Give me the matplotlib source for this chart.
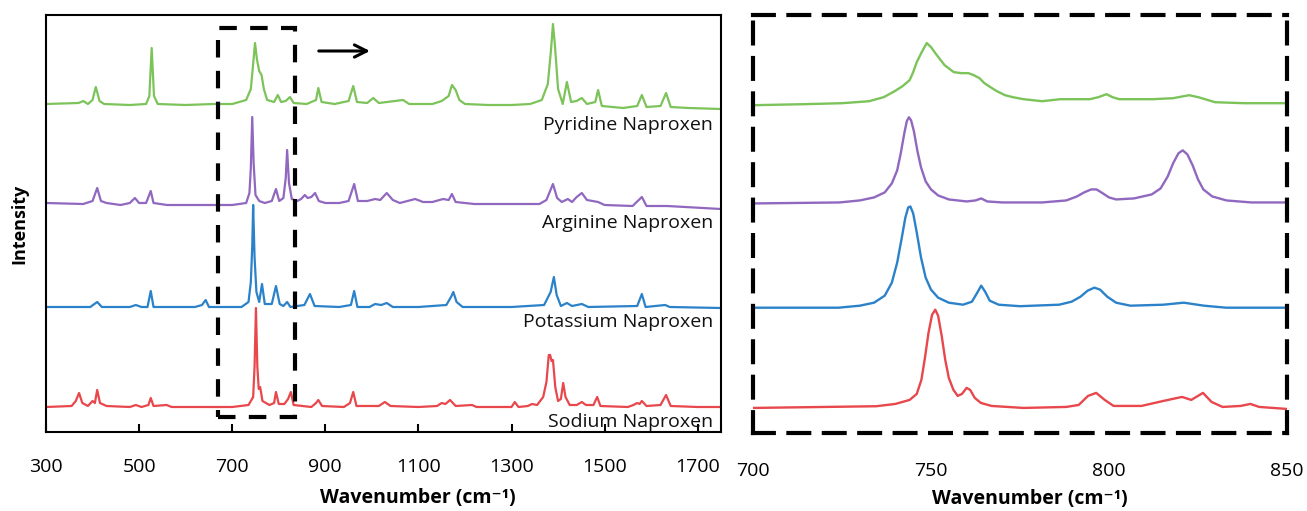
import matplotlib
matplotlib.use("Agg")
import matplotlib.pyplot as plt
import numpy as np
from matplotlib.patches import Rectangle

plt.rcParams['font.family'] = ['Open Sans', 'DejaVu Sans']

# ---------------- data ----------------
names = ['Pyridine Naproxen', 'Arginine Naproxen', 'Potassium Naproxen', 'Sodium Naproxen']
colors = ['#7cc35a', '#9068bf', '#2b82c9', '#e8474c']
offsets = [328, 229, 125, 25]

# full-range spectra (wavenumber, intensity above baseline)
pyr_x = [300, 370, 380, 390, 400, 407, 415, 425, 480, 515, 522, 527, 532, 540, 600, 660, 700, 730, 740, 745,
         749, 753, 758, 763, 768, 775, 790, 798, 805, 815, 824, 832, 860, 880, 885, 892, 920, 950, 960, 968,
         990, 1003, 1015, 1067, 1080, 1130, 1150, 1165, 1172, 1180, 1188, 1200, 1250, 1300, 1340, 1365, 1378,
         1385, 1389, 1393, 1400, 1410, 1419, 1428, 1440, 1451, 1462, 1480, 1486, 1494, 1540, 1570, 1580, 1590,
         1620, 1632, 1642, 1680, 1750]
pyr_y = [0, 1, 3, 0, 4, 17, 3, 0, -1, 0, 8, 56, 8, 0, -1, 0, 0, 4, 15, 40,
         61, 45, 33, 29, 15, 4, 2, 9, 2, 3, 7, 1, 0, 4, 16, 2, 0, 3, 18, 2,
         1, 6, 1, 4, 0, 0, 3, 8, 19, 14, 4, 0, -1, -1, 0, 4, 20,
         55, 80, 60, 15, 0, 22, 2, 3, 6, 0, 2, 14, -2, -4, -2, 9, -3,
         -2, 11, -3, -4, -5]

arg_x = [300, 380, 400, 410, 418, 430, 460, 480, 491, 500, 515, 525, 531, 560, 640, 700, 730, 737, 740, 743,
         746, 750, 758, 770, 785, 794, 801, 810, 815, 818, 822, 828, 840, 848, 856, 862, 870, 878, 886, 900,
         930, 950, 962, 970, 990, 1007, 1018, 1032, 1045, 1060, 1093, 1110, 1130, 1153, 1165, 1172, 1180, 1220,
         1300, 1360, 1375, 1389, 1398, 1408, 1421, 1430, 1440, 1451, 1462, 1486, 1500, 1560, 1580, 1590, 1634,
         1750]
arg_y = [0, -1, 2, 15, 2, 0, -2, 0, 5, 0, 0, 12, 0, -2, -2, -2, 0, 10, 35, 86,
         40, 8, 2, 0, 2, 14, 2, 5, 25, 53, 20, 4, 2, 4, 8, 5, 6, 10, 2, 0,
         0, 2, 19, 2, 2, 4, 3, 10, 3, 0, 4, 1, 1, 4, 3, 9, 1, -1,
         -1, -1, 3, 19, 5, 1, 4, 1, 6, 10, 3, 1, -2, -3, 6, -3, -3,
         -6]

pot_x = [300, 395, 410, 420, 480, 493, 505, 518, 525, 531, 620, 635, 643, 650, 720, 735, 740, 743, 745, 748,
         752, 758, 764, 770, 785, 794, 802, 810, 818, 825, 855, 867, 877, 930, 955, 962, 969, 995, 1007, 1020,
         1032, 1045, 1100, 1160, 1170, 1175, 1182, 1195, 1300, 1370, 1384, 1391, 1397, 1406, 1419, 1430, 1451,
         1465, 1570, 1580, 1588, 1630, 1640, 1750]
pot_y = [0, 0, 5, 0, 0, 2, 0, 0, 16, 0, 0, 2, 7, 0, 0, 5, 25, 60, 102, 50,
         15, 5, 23, 3, 3, 21, 3, 1, 5, 0, 2, 13, 1, 0, 2, 16, 0, 0, 3, 2,
         4, 0, 0, 2, 10, 15, 5, 0, 0, 2, 15, 30, 12, 1, 4, 1, 3,
         0, 1, 13, 0, 2, 0, -1]

sod_x = [300, 355, 364, 371, 378, 390, 400, 405, 410, 416, 430, 480, 493, 505, 520, 525, 531, 559, 570, 700,
         735, 745, 748, 751, 754, 757, 760, 765, 780, 790, 794, 800, 812, 820, 826, 832, 870, 880, 885, 893,
         940, 953, 960, 967, 1015, 1028, 1040, 1100, 1140, 1150, 1158, 1168, 1180, 1215, 1225, 1300, 1307,
         1315, 1335, 1344, 1355, 1368, 1375, 1380, 1383, 1386, 1389, 1394, 1400, 1406, 1411, 1416, 1425, 1440,
         1451, 1460, 1476, 1484, 1491, 1550, 1562, 1570, 1575, 1580, 1590, 1620, 1632, 1642, 1700, 1750]
sod_y = [0, 1, 6, 14, 4, 1, 6, 4, 17, 4, 1, 0, 2, 0, 2, 9, 1, 2, 0, 0,
         2, 10, 40, 99, 40, 18, 20, 6, 2, 4, 15, 3, 3, 8, 15, 2, 0, 4, 7, 1,
         0, 4, 15, 1, 1, 5, 1, 0, 1, 4, 3, 7, 1, 2, 0, 0, 5,
         0, 1, 3, 2, 10, 25, 52, 52, 46, 47, 20, 6, 8, 24, 10, 2, 2,
         5, 2, 2, 10, 1, 0, 2, 4, 3, 6, 1, 2, 12, 1, 0, 0]

# zoomed spectra (700-850 cm-1)
pyr_zx = [700, 713.9, 725, 732.6, 736.7, 739.8, 742, 744, 745, 746, 747.4, 748.8, 750, 751.2, 752.5, 753.8,
          756.4, 758.5, 760.5, 762, 763.6, 765, 766.7, 768.5, 770.8, 773, 776, 781.2, 786.3, 794.6, 797,
          799.3, 801, 802.9, 812.2, 818, 822.5, 825.1, 829.8, 838, 850]
pyr_zy = [-1, 0, 1, 3, 7, 13, 18, 24, 32, 42, 52, 61, 57, 51, 45, 39,
          32, 31, 31, 29, 26, 21, 17, 13, 9, 7, 5, 3, 5, 5, 7,
          10, 7, 5, 5, 6, 9, 7, 2, 1, 1]

arg_zx = [700, 724.3, 730, 734, 737, 739, 740.5, 741.5, 742.5, 743.2, 743.8, 744.4, 745.2, 746.2, 747.2,
          748.5, 750, 752, 755, 760, 762.5, 764.1, 765.8, 770, 781.2, 788, 791, 793, 795, 796.5, 798.3, 800,
          802, 807, 812, 814.5, 816.5, 818, 819.5, 820.7, 822, 823.5, 825, 826.5, 829, 833, 840, 850]
arg_zy = [0, 1, 3, 6, 11, 20, 33, 50, 70, 82, 86, 83, 72, 52, 36,
          22, 14, 8, 4, 2, 3, 5, 2, 1, 1, 3, 7, 11, 14, 14, 10, 6,
          4, 5, 9, 15, 27, 40, 50, 53, 49, 38, 24, 14, 7, 3, 1, 1]

pot_zx = [700, 724, 730, 734, 737, 739, 740.5, 741.7, 742.8, 743.6, 744.2, 745, 746, 747.2, 748.5, 750, 752,
          755, 759, 761.5, 763, 764.1, 765.2, 766.5, 769, 775, 786, 789.5, 792, 794, 795.9, 797.5, 799.5,
          802, 806, 815.3, 821, 826.7, 832.9, 850]
pot_zy = [0, 0, 2, 5, 12, 25, 45, 68, 90, 100, 101, 94, 75, 50, 30, 18, 10,
          5, 3, 6, 15, 22, 16, 7, 3, 1.5, 3, 6, 11, 17, 20, 18, 11,
          5, 2, 3, 5, 2, 0, 0]

sod_zx = [700, 734.6, 740, 744, 746, 747.3, 748.3, 749.3, 750.3, 751.2, 752, 753, 754, 755, 756.3, 757.5,
          758.7, 760, 761, 762.3, 764, 767, 776, 788, 791.5, 794.1, 796.4, 798.8, 801.3, 809.1, 815.3, 820.5,
          823.1, 826.4, 828.8, 831.9, 837, 839.7, 842.2, 850]
sod_zy = [0, 1.7, 4, 8, 14, 28, 50, 75, 93, 98, 92, 72, 48, 30, 18, 12,
          14, 20, 18, 10, 5, 2, 0, 1, 3, 12, 15, 8, 2, 2, 7, 11,
          8, 15, 6, 1, 2, 4, 1, -1]

full_x = [pyr_x, arg_x, pot_x, sod_x]
full_y = [pyr_y, arg_y, pot_y, sod_y]
zoom_x = [pyr_zx, arg_zx, pot_zx, sod_zx]
zoom_y = [pyr_zy, arg_zy, pot_zy, sod_zy]

full_ticks = [300, 500, 700, 900, 1100, 1300, 1500, 1700]
zoom_ticks = [700, 750, 800, 850]

# ---------------- figure ----------------
W, H = 1307, 511
fig = plt.figure(figsize=(W / 100, H / 100), dpi=100)
ax1 = fig.add_axes([46 / W, 79 / H, 675 / W, 417 / H])
ax2 = fig.add_axes([753 / W, 78 / H, 534 / W, 418 / H])

for i in range(4):
    ax1.plot(np.array(full_x[i]), np.array(full_y[i]) + offsets[i], color=colors[i], lw=1.6)
    ax2.plot(np.array(zoom_x[i]), np.array(zoom_y[i]) + offsets[i], color=colors[i], lw=1.7)

# left panel
ax1.set_xlim(300, 1750)
ax1.set_ylim(0, 417)
ax1.set_xticks(full_ticks)
ax1.set_xticklabels([str(t) for t in full_ticks])
ax1.set_yticks([])
ax1.tick_params(axis='x', direction='in', length=6, width=1.5, pad=19, labelsize=14)
for s in ax1.spines.values():
    s.set_linewidth(1.5)
    s.set_color('black')

label_base = [302, 204, 105, 5]
for i in range(4):
    ax1.text(1733, label_base[i], names[i], ha='right', va='baseline', fontsize=14, color='#111111')

ax1.add_patch(Rectangle((670, 15), 165, 389, fill=False, ec='black', lw=3,
                        ls=(0, (4.2, 3.2)), zorder=5))
ax1.annotate('', xy=(1002, 381), xytext=(880, 381),
             arrowprops=dict(arrowstyle='->', lw=2.2, color='black', mutation_scale=22))

ax1.set_xlabel('Wavenumber (cm\u207b\u00b9)', fontsize=14, fontweight='bold')
ax1.xaxis.set_label_coords(0.551, -0.135)
ax1.text(-0.040, 0.5, 'Intensity', transform=ax1.transAxes, rotation=90,
         ha='center', va='center', fontsize=13, fontweight='bold')

# right panel
ax2.set_xlim(700, 850)
ax2.set_ylim(0, 417)
ax2.set_xticks(zoom_ticks)
ax2.set_xticklabels([str(t) for t in zoom_ticks])
ax2.set_yticks([])
ax2.tick_params(axis='x', length=0, pad=21, labelsize=14)
for s in ax2.spines.values():
    s.set_linewidth(3)
    s.set_color('black')
    s.set_linestyle((0, (5, 3.5)))
ax2.set_xlabel('Wavenumber (cm\u207b\u00b9)', fontsize=14, fontweight='bold')
ax2.xaxis.set_label_coords(0.519, -0.135)

fig.savefig('out.png', dpi=100)
